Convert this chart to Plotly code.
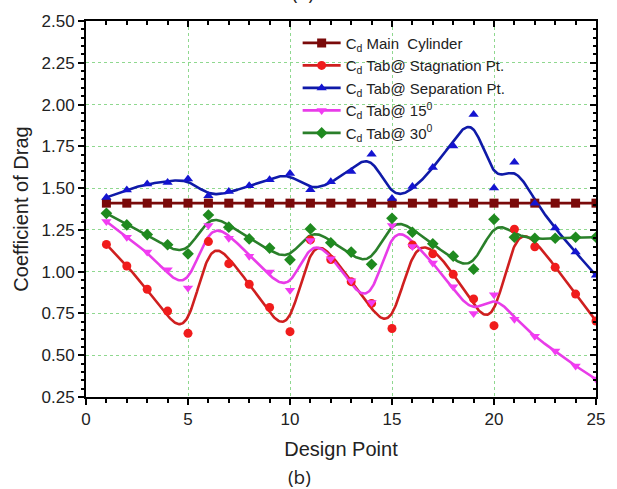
import numpy as np
import plotly.graph_objects as go

# ---------------- data ----------------
design_point = list(range(1, 26))
cd_main = [1.41] * 25
cd_stagnation = [1.163, 1.034, 0.895, 0.764, 0.631, 1.18, 1.048, 0.925, 0.786, 0.641,
                 1.19, 1.073, 0.94, 0.81, 0.66, 1.16, 1.107, 0.984, 0.837, 0.677,
                 1.254, 1.149, 1.026, 0.866, 0.705]
cd_separation = [1.444, 1.488, 1.524, 1.534, 1.554, 1.454, 1.48, 1.514, 1.55, 1.587,
                 1.49, 1.538, 1.60, 1.702, 1.438, 1.51, 1.623, 1.752, 1.94, 1.50,
                 1.655, 1.41, 1.262, 1.117, 0.978]
cd_tab15 = [1.30, 1.206, 1.117, 1.012, 0.903, 1.276, 1.20, 1.093, 0.998, 0.889,
            1.186, 1.077, 0.946, 0.815, 1.276, 1.151, 1.052, 0.909, 0.75, 0.862,
            0.716, 0.613, 0.526, 0.435, 0.357]
cd_tab30 = [1.349, 1.28, 1.222, 1.161, 1.107, 1.339, 1.266, 1.196, 1.141, 1.071,
            1.256, 1.173, 1.117, 1.044, 1.319, 1.236, 1.167, 1.093, 1.015, 1.313,
            1.206, 1.20, 1.20, 1.206, 1.206]

names = ["C<sub>d</sub> Main  Cylinder", "C<sub>d</sub> Tab@ Stagnation Pt.",
         "C<sub>d</sub> Tab@ Separation Pt.", "C<sub>d</sub> Tab@ 15<sup>0</sup>",
         "C<sub>d</sub> Tab@ 30<sup>0</sup>"]
series = [cd_main, cd_stagnation, cd_separation, cd_tab15, cd_tab30]
line_colors = ["#7a0a0a", "#cf1f1f", "#0f1aa8", "#e83ce8", "#2a7f2a"]
marker_colors = ["#7a0a0a", "#f01c1c", "#1414d0", "#f23cf2", "#1f8a1f"]
symbols = ["square", "circle", "triangle-up", "triangle-down", "diamond"]


def smoothing_spline(x, y, lam, xs):
    """Natural cubic smoothing spline (Reinsch) evaluated at xs."""
    x = np.asarray(x, float)
    y = np.asarray(y, float)
    n = len(x)
    h = np.diff(x)
    Q = np.zeros((n, n - 2))
    R = np.zeros((n - 2, n - 2))
    for j in range(1, n - 1):
        Q[j - 1, j - 1] = 1 / h[j - 1]
        Q[j, j - 1] = -1 / h[j - 1] - 1 / h[j]
        Q[j + 1, j - 1] = 1 / h[j]
        R[j - 1, j - 1] = (h[j - 1] + h[j]) / 3
        if j < n - 2:
            R[j - 1, j] = R[j, j - 1] = h[j] / 6
    gi = np.linalg.solve(R + lam * Q.T @ Q, Q.T @ y)
    g = y - lam * Q @ gi
    gam = np.concatenate([[0.0], gi, [0.0]])
    idx = np.clip(np.searchsorted(x, xs) - 1, 0, n - 2)
    xl, xr = x[idx], x[idx + 1]
    hh = xr - xl
    a = xs - xl
    b = xr - xs
    return (a * g[idx + 1] + b * g[idx]) / hh - a * b / 6 * (
        (1 + a / hh) * gam[idx + 1] + (1 + b / hh) * gam[idx])


LAM = 0.05
xs = np.linspace(design_point[0], design_point[-1], 601)

fig = go.Figure()
for name, ys, lc in zip(names, series, line_colors):
    fig.add_trace(go.Scatter(x=xs, y=smoothing_spline(design_point, ys, LAM, xs),
                             mode="lines", line=dict(color=lc, width=2.6),
                             showlegend=False, hoverinfo="skip"))
for name, ys, mc, sym in zip(names, series, marker_colors, symbols):
    fig.add_trace(go.Scatter(x=design_point, y=ys, mode="markers",
                             xaxis="x2", yaxis="y2",
                             marker=dict(symbol=sym, size=9, color=mc,
                                         line=dict(width=0)),
                             showlegend=False, name=name))
for name, lc, mc, sym in zip(names, line_colors, marker_colors, symbols):
    fig.add_trace(go.Scatter(x=[None], y=[None], mode="lines+markers", name=name,
                             line=dict(color=lc, width=2.6),
                             marker=dict(symbol=sym, size=9, color=mc)))

FONT = "Liberation Sans, Arial, sans-serif"
tickfont = dict(family=FONT, size=17, color="#222")
titlefont = dict(family=FONT, size=20, color="#222")
grid = dict(showgrid=True, gridcolor="#8fd88f", griddash="dot", gridwidth=1)
common = dict(tickwidth=1.5, tickcolor="black", showline=True, linewidth=2,
              linecolor="black", zeroline=False)

fig.update_layout(
    width=617, height=489,
    margin=dict(l=86, r=16, t=19, b=92),
    paper_bgcolor="white", plot_bgcolor="white",
    showlegend=True,
    legend=dict(x=0.415, y=0.985, xanchor="left", yanchor="top",
                bgcolor="rgba(0,0,0,0)", borderwidth=0, tracegroupgap=0,
                font=dict(family=FONT, size=15, color="#222"), itemwidth=38),
    xaxis=dict(range=[0, 25], tick0=0, dtick=5, ticks="outside", ticklen=6,
               tickfont=tickfont,
               title=dict(text="Design Point", font=titlefont, standoff=14),
               minor=dict(dtick=1, ticks="outside", ticklen=3.5, tickwidth=1.5,
                          tickcolor="black", showgrid=False),
               **common, **grid),
    yaxis=dict(range=[0.25, 2.5], tick0=0.25, dtick=0.25, tickformat=".2f",
               ticks="outside", ticklen=6, tickfont=tickfont,
               title=dict(text="Coefficient of Drag", font=titlefont, standoff=8),
               minor=dict(dtick=0.05, ticks="outside", ticklen=3.5, tickwidth=1.5,
                          tickcolor="black", showgrid=False),
               **common, **grid),
    xaxis2=dict(overlaying="x", side="top", range=[0, 25], tick0=0, dtick=5,
                ticks="inside", ticklen=6, showgrid=False, showticklabels=False,
                minor=dict(dtick=1, ticks="inside", ticklen=3.5, tickwidth=1.5,
                           tickcolor="black", showgrid=False),
                **common),
    yaxis2=dict(overlaying="y", side="right", range=[0.25, 2.5], tick0=0.25,
                dtick=0.25, ticks="inside", ticklen=6, showgrid=False,
                showticklabels=False,
                minor=dict(dtick=0.05, ticks="inside", ticklen=3.5, tickwidth=1.5,
                           tickcolor="black", showgrid=False),
                **common),
    annotations=[
        dict(text="(b)", xref="paper", yref="paper", x=0.418, y=-0.214,
             xanchor="center", yanchor="middle", showarrow=False,
             font=dict(family="Open Sans, sans-serif", size=19, color="#222")),
        dict(text="(a)", xref="paper", yref="paper", x=0.425, y=1.034,
             xanchor="center", yanchor="bottom", showarrow=False,
             font=dict(family="Open Sans, sans-serif", size=19, color="#222")),
    ],
)

fig.write_html("out.html", config={"displayModeBar": False},
               post_script="document.body.style.margin='0';"
                           "document.body.style.overflow='hidden';")
